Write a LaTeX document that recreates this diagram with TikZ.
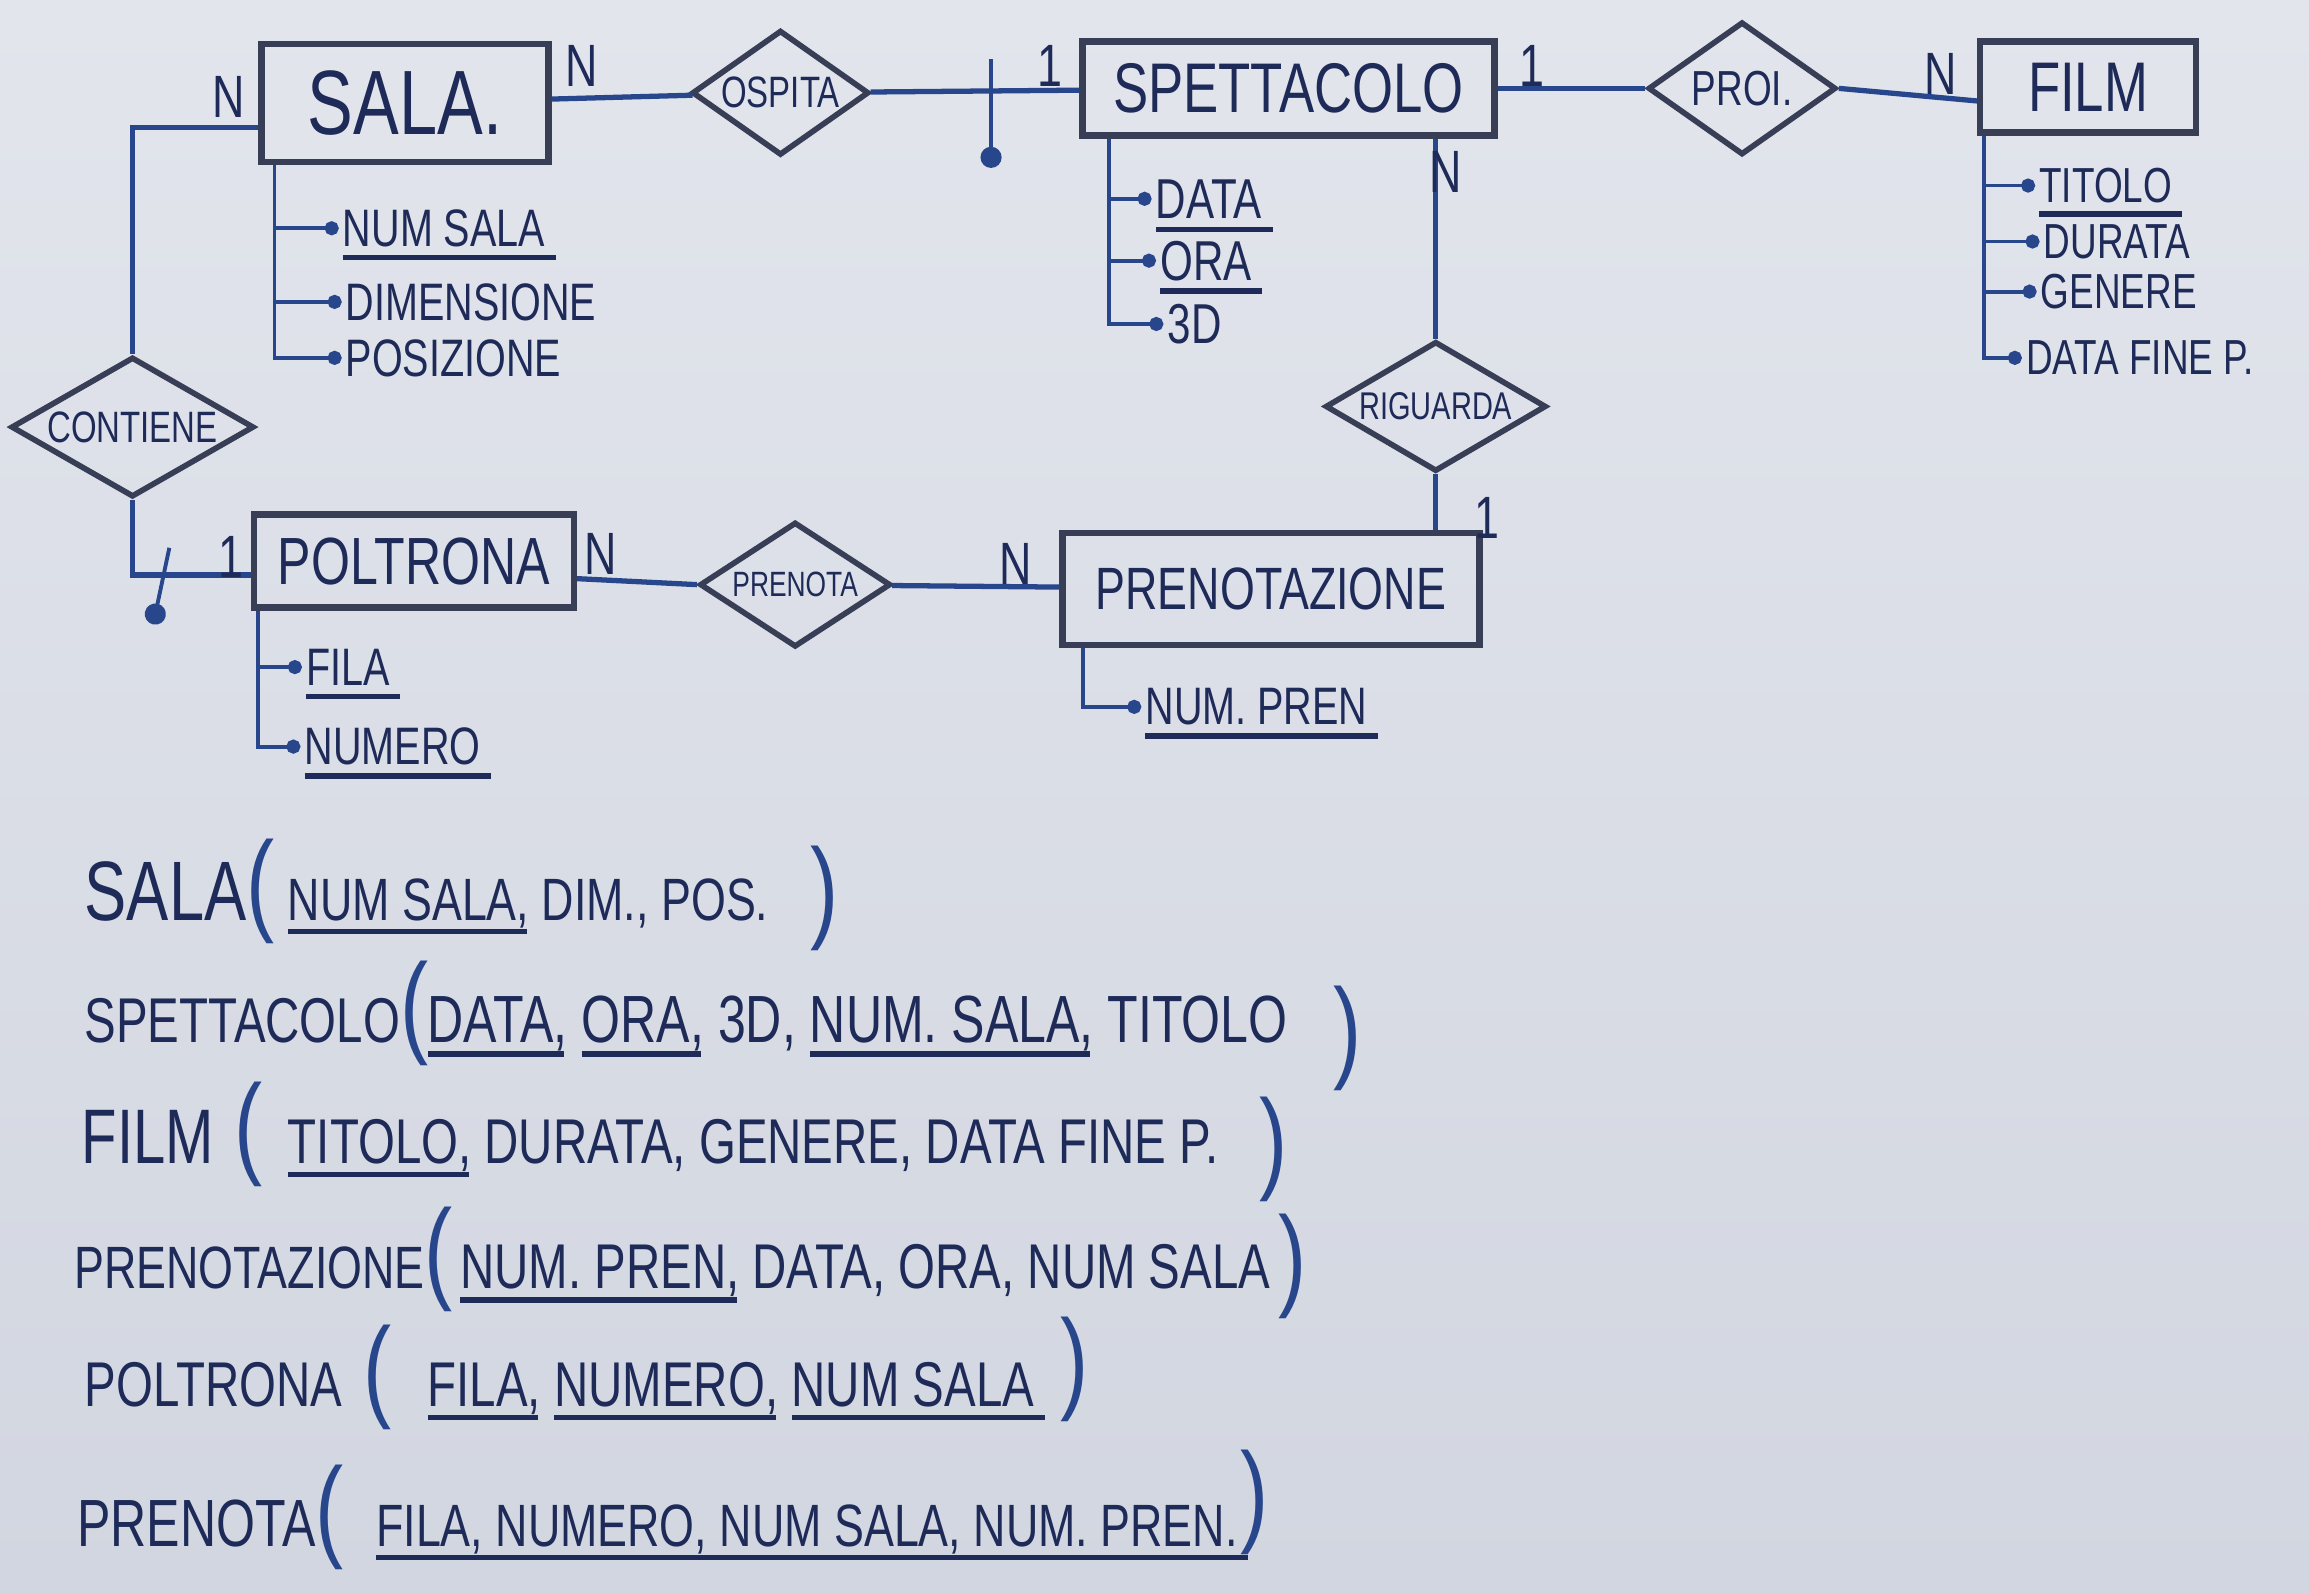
\documentclass[tikz,border=0pt]{standalone}
\usepackage{fontspec}
\setmainfont{Liberation Sans}[FakeStretch=0.75]
\usepackage{xcolor}
\usetikzlibrary{arrows.meta, positioning, shapes.geometric}

\definecolor{board}{RGB}{210,214,224}
\definecolor{boardlight}{RGB}{226,229,236}
\definecolor{ink}{RGB}{30,42,88}
\definecolor{boxink}{RGB}{55,62,85}
\definecolor{inkblue}{RGB}{40,70,140}

\newcommand{\fsz}[1]{\fontsize{#1}{#1}\selectfont}
\newcommand{\keyu}[1]{\leavevmode\setbox0=\hbox{#1}\rlap{\raisebox{-4pt}[0pt][0pt]{\rule{\dimexpr\wd0+3pt\relax}{1.6pt}}}\box0}

\tikzset{
	entity/.style={draw=boxink, line width=1.8pt, rectangle, text=ink, inner sep=2pt},
	relation/.style={draw=boxink, line width=1.6pt, diamond, text=ink, inner sep=0pt},
	conn/.style={draw=inkblue, line width=1.5pt},
	attrline/.style={draw=inkblue, line width=1.1pt, -{Circle[length=4pt]}},
	attr/.style={text=ink, anchor=west, inner sep=1pt, font=\fsz{15}},
	card/.style={text=ink, inner sep=0pt, font=\fsz{17}},
	idline/.style={draw=inkblue, line width=1.1pt, -{Circle[length=6pt]}},
	rel/.style={text=ink, anchor=base west, inner sep=0pt},
	paren/.style={text=inkblue, anchor=base west, inner sep=0pt, font=\fsz{32}},
}

\begin{document}
\begin{tikzpicture}[x=0.14726cm, y=-0.14726cm]
		\useasboundingbox (0,0) rectangle (156.8,108.2);
		\shade[top color=boardlight, bottom color=board] (0,0) rectangle (156.8,108.2);

		% entita
		\node[entity, minimum width=2.87cm, minimum height=1.18cm, font=\fsz{26}] (sala) at (27.5,7.0) {SALA.};
		\node[entity, minimum width=4.12cm, minimum height=0.94cm, font=\fsz{20}] (spettacolo) at (87.5,6.0) {SPETTACOLO};
		\node[entity, minimum width=2.16cm, minimum height=0.91cm, font=\fsz{20}] (film) at (141.8,5.9) {FILM};
		\node[entity, minimum width=3.2cm, minimum height=0.93cm, font=\fsz{19}] (poltrona) at (28.1,38.1) {POLTRONA};
		\node[entity, minimum width=4.17cm, minimum height=1.12cm, font=\fsz{17}] (prenotazione) at (86.3,40.0) {PRENOTAZIONE};

		% relazioni
		\node[relation, aspect=1.4, minimum width=1.77cm, minimum height=1.25cm, font=\fsz{12.5}] (ospita) at (53.0,6.3) {OSPITA};
		\node[relation, aspect=1.4, minimum width=1.88cm, minimum height=1.33cm, font=\fsz{14}] (proi) at (118.3,6.0) {PROI.};
		\node[relation, aspect=1.75, minimum width=2.43cm, minimum height=1.40cm, font=\fsz{12.5}] (contiene) at (9.0,29.0) {CONTIENE};
		\node[relation, aspect=1.7, minimum width=2.21cm, minimum height=1.30cm, font=\fsz{11}] (riguarda) at (97.5,27.6) {RIGUARDA};
		\node[relation, aspect=1.5, minimum width=1.91cm, minimum height=1.25cm, font=\fsz{10}] (prenota) at (54.0,39.7) {PRENOTA};

		\draw[conn] (sala) -- (ospita);
		\draw[conn] (ospita) -- (spettacolo);
		\draw[conn] (spettacolo) -- (proi);
		\draw[conn] (proi.east) -- ([yshift=-4pt]film.west);
		\draw[conn] ([yshift=-7pt]sala.west) -| (contiene.north);
		\draw[conn] (contiene.south) |- ([yshift=-4pt]poltrona.west);
		\draw[conn] (spettacolo.south -| riguarda.north) -- (riguarda.north);
		\draw[conn] (riguarda.south) -- (riguarda.south |- prenotazione.north);
		\draw[conn] ([yshift=-5pt]poltrona.east) -- (prenota.west);
		\draw[conn] (prenota) -- (prenotazione);

		% identificatori esterni
		\coordinate (ospidtop) at (67.3,4.0);
		\coordinate (ospid) at (67.3,11.4);
		\draw[idline] (ospidtop) -- (ospid);
		\coordinate (contidtop) at (11.5,37.2);
		\coordinate (contid) at (10.4,42.4);
		\draw[idline] (contidtop) -- (contid);

		% cardinalita
		\node[card] (salacont) at (15.5,6.6) {N};
		\node[card] (salaosp) at (39.5,4.5) {N};
		\node[card] (spettosp) at (71.3,4.5) {1};
		\node[card] (spettproi) at (104.0,4.5) {1};
		\node[card] (filmproi) at (131.8,5.0) {N};
		\node[card] (spettrig) at (98.2,11.7) {N};
		\node[card] (prenrig) at (101.0,35.2) {1};
		\node[card] (poltcont) at (15.7,37.8) {1};
		\node[card] (poltpren) at (40.8,37.6) {N};
		\node[card] (prenpren) at (69.0,38.3) {N};

		% attributi
		\node[attr] (numsala) at (23.0,15.5) {\keyu{NUM SALA}};
		\node[attr] (dimensione) at (23.2,20.5) {DIMENSIONE};
		\node[attr] (posizione) at (23.2,24.3) {POSIZIONE};
		\draw[attrline] ([xshift=4.6pt]sala.south west) |- (numsala);
		\draw[attrline] ([xshift=4.6pt]sala.south west) |- (dimensione);
		\draw[attrline] ([xshift=4.6pt]sala.south west) |- (posizione);

		\node[attr, font=\fsz{16}] (data) at (78.2,13.5) {\keyu{DATA}};
		\node[attr, font=\fsz{16}] (ora) at (78.5,17.7) {\keyu{ORA}};
		\node[attr, font=\fsz{16}] (tred) at (79.0,22.0) {3D};
		\draw[attrline] ([xshift=8.4pt]spettacolo.south west) |- (data);
		\draw[attrline] ([xshift=8.4pt]spettacolo.south west) |- (ora);
		\draw[attrline] ([xshift=8.4pt]spettacolo.south west) |- (tred);

		\node[attr, font=\fsz{14}] (titolo) at (138.2,12.6) {\keyu{TITOLO}};
		\node[attr, font=\fsz{14}] (durata) at (138.5,16.4) {DURATA};
		\node[attr, font=\fsz{14}] (genere) at (138.3,19.8) {GENERE};
		\node[attr, font=\fsz{14}] (datafine) at (137.3,24.3) {DATA FINE P.};
		\draw[attrline] ([xshift=2pt]film.south west) |- (titolo);
		\draw[attrline] ([xshift=2pt]film.south west) |- (durata);
		\draw[attrline] ([xshift=2pt]film.south west) |- (genere);
		\draw[attrline] ([xshift=2pt]film.south west) |- (datafine);

		\node[attr] (fila) at (20.5,45.3) {\keyu{FILA}};
		\node[attr] (numero) at (20.4,50.7) {\keyu{NUMERO}};
		\draw[attrline] ([xshift=2pt]poltrona.south west) |- (fila);
		\draw[attrline] ([xshift=2pt]poltrona.south west) |- (numero);

		\node[attr] (numpren) at (77.5,48.0) {\keyu{NUM. PREN}};
		\draw[attrline] ([xshift=6.7pt]prenotazione.south west) |- (numpren);

		% schema logico
		\node[rel, font=\fsz{24}] (rsala) at (5.7,62.5) {SALA{\color{inkblue}\fsz{32}(}};
		\node[rel, font=\fsz{17}] (rsalaf) at (19.5,62.5) {\keyu{NUM SALA}, DIM., POS.};
		\node[paren] (rsalac) at (55.0,63.0) {)};

		\node[rel, font=\fsz{18}] (rspett) at (5.7,70.8) {SPETTACOLO{\color{inkblue}\fsz{32}(}};
		\node[rel, font=\fsz{19}] (rspettf) at (29.0,70.8) {\keyu{DATA}, \keyu{ORA}, 3D, \keyu{NUM. SALA}, TITOLO};
		\node[paren] (rspettc) at (90.5,72.5) {)};

		\node[rel, font=\fsz{22}] (rfilm) at (5.5,79.0) {FILM\hspace{6pt}{\color{inkblue}\fsz{32}(}};
		\node[rel, font=\fsz{18}] (rfilmf) at (19.5,79.0) {\keyu{TITOLO}, DURATA, GENERE, DATA FINE P.};
		\node[paren] (rfilmc) at (85.5,80.0) {)};

		\node[rel, font=\fsz{17}] (rpren) at (5.0,87.5) {PRENOTAZIONE{\color{inkblue}\fsz{32}(}};
		\node[rel, font=\fsz{18}] (rprenf) at (31.2,87.5) {\keyu{NUM. PREN}, DATA, ORA, NUM SALA};
		\node[paren] (rprenc) at (86.8,88.0) {)};

		\node[rel, font=\fsz{18}] (rpolt) at (5.7,95.5) {POLTRONA\hspace{6pt}{\color{inkblue}\fsz{32}(}};
		\node[rel, font=\fsz{18}] (rpoltf) at (29.0,95.5) {\keyu{FILA}, \keyu{NUMERO}, \keyu{NUM SALA}};
		\node[paren] (rpoltc) at (72.0,95.0) {)};

		\node[rel, font=\fsz{19}] (rprenota) at (5.2,105.0) {PRENOTA{\color{inkblue}\fsz{32}(}};
		\node[rel, font=\fsz{17}] (rprenotaf) at (25.5,105.0) {\keyu{FILA, NUMERO, NUM SALA, NUM. PREN.}};
		\node[paren] (rprenotac) at (84.2,104.0) {)};
	\end{tikzpicture}
\end{document}
